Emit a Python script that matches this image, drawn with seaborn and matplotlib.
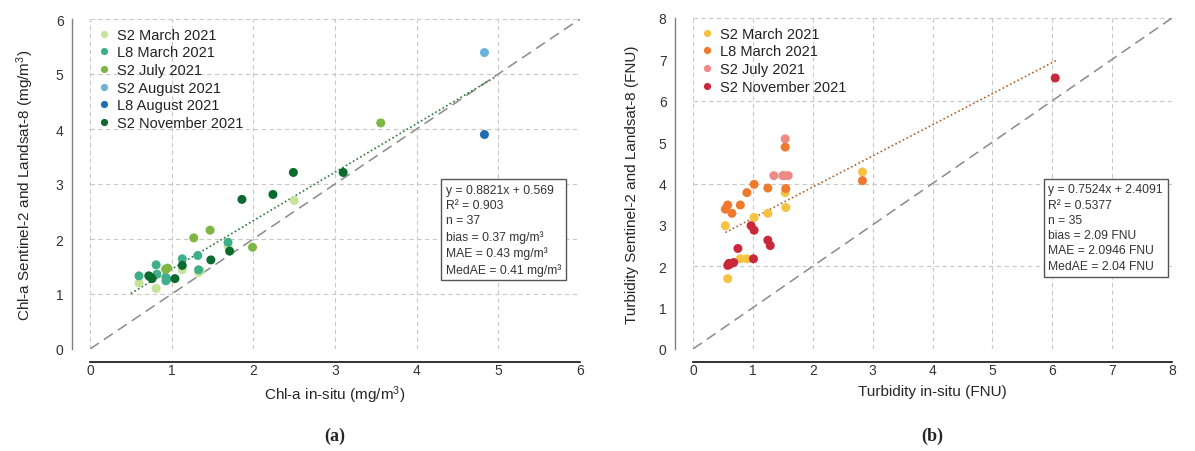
import matplotlib
matplotlib.use("Agg")
import matplotlib.pyplot as plt
import numpy as np
import pandas as pd
import seaborn as sns

# ---- panel (a): Chl-a ----
chl_groups = ["S2 March 2021", "L8 March 2021", "S2 July 2021",
              "S2 August 2021", "L8 August 2021", "S2 November 2021"]
chl_colors = ["#c6e39b", "#3fae8a", "#7db642", "#6bb3dc", "#1f6db3", "#0b6a2e"]

chl_s2_mar_x = [0.60, 0.81, 0.92, 1.13, 1.33, 1.35, 1.69, 2.50]
chl_s2_mar_y = [1.20, 1.10, 1.45, 1.44, 1.39, 1.42, 1.87, 2.70]
chl_l8_mar_x = [0.60, 0.81, 0.82, 0.93, 0.93, 0.94, 1.13, 1.32, 1.33, 1.69]
chl_l8_mar_y = [1.33, 1.53, 1.36, 1.30, 1.24, 1.27, 1.64, 1.70, 1.44, 1.94]
chl_s2_jul_x = [0.93, 0.95, 1.27, 1.47, 1.99, 3.56]
chl_s2_jul_y = [1.45, 1.47, 2.02, 2.16, 1.85, 4.11]
chl_s2_aug_x = [4.83]
chl_s2_aug_y = [5.39]
chl_l8_aug_x = [4.83]
chl_l8_aug_y = [3.90]
chl_s2_nov_x = [0.72, 0.74, 0.76, 1.04, 1.13, 1.48, 1.71, 1.86, 2.24, 2.49, 3.10]
chl_s2_nov_y = [1.33, 1.31, 1.28, 1.28, 1.52, 1.62, 1.78, 2.72, 2.81, 3.21, 3.21]

chl_fit = (0.8821, 0.569)
chl_fit_range = [0.50, 4.95]
chl_stats = ["y = 0.8821x + 0.569", "R\u00b2 = 0.903", "n = 37",
             "bias = 0.37 mg/m\u00b3", "MAE = 0.43 mg/m\u00b3", "MedAE = 0.41 mg/m\u00b3"]

# ---- panel (b): Turbidity ----
tur_groups = ["S2 March 2021", "L8 March 2021", "S2 July 2021", "S2 November 2021"]
tur_colors = ["#f5c242", "#ee7a2e", "#ee8a86", "#c9283a"]

tur_s2_mar_x = [0.54, 0.58, 0.79, 0.90, 1.02, 1.25, 1.54, 1.55, 2.83]
tur_s2_mar_y = [2.98, 1.70, 2.18, 2.18, 3.18, 3.28, 3.78, 3.42, 4.28]
tur_l8_mar_x = [0.54, 0.58, 0.65, 0.79, 0.90, 1.02, 1.25, 1.54, 1.55, 2.83]
tur_l8_mar_y = [3.38, 3.48, 3.28, 3.48, 3.78, 3.98, 3.89, 4.88, 3.88, 4.07]
tur_s2_jul_x = [1.35, 1.50, 1.52, 1.59, 1.54]
tur_s2_jul_y = [4.19, 4.19, 4.19, 4.19, 5.08]
tur_s2_nov_x = [0.58, 0.60, 0.62, 0.68, 0.75, 0.97, 1.02, 1.01, 1.25, 1.29, 6.05]
tur_s2_nov_y = [2.02, 2.07, 2.05, 2.09, 2.43, 2.98, 2.87, 2.18, 2.63, 2.50, 6.55]

tur_fit = (0.7524, 2.4091)
tur_fit_range = [0.54, 6.08]
tur_stats = ["y = 0.7524x + 2.4091", "R\u00b2 = 0.5377", "n = 35",
             "bias = 2.09 FNU", "MAE = 2.0946 FNU", "MedAE = 2.04 FNU"]


def make_df(groups, xs, ys):
    rows = {"x": [], "y": [], "group": []}
    for g, x, y in zip(groups, xs, ys):
        rows["x"] += x
        rows["y"] += y
        rows["group"] += [g] * len(x)
    return pd.DataFrame(rows)


def draw_panel(ax, df, groups, colors, lim, fit, fit_range, fit_color, stats,
               xlabel, ylabel, ygrid_step, panel_tag, box_x):
    # grid
    for v in range(0, lim + 1):
        ax.axvline(v, color="#c8c8c8", lw=0.8, ls=(0, (4, 3)), zorder=0)
    for v in range(0, lim + 1, ygrid_step):
        ax.axhline(v, color="#c8c8c8", lw=0.8, ls=(0, (4, 3)), zorder=0)

    # 1:1 line
    ax.plot([0, lim], [0, lim], color="#8a8a8a", lw=1.1, ls=(0, (7, 4)), zorder=1)
    # regression line
    fx = np.array(fit_range)
    ax.plot(fx, fit[0] * fx + fit[1], color=fit_color, lw=1.2, ls=(0, (1, 1.5)), zorder=2)

    sns.scatterplot(data=df, x="x", y="y", hue="group", hue_order=groups,
                    palette=dict(zip(groups, colors)), s=42, linewidth=0,
                    alpha=1, ax=ax, zorder=3)

    ax.set_xlim(0, lim)
    ax.set_ylim(0, lim)
    ax.set_xticks(range(0, lim + 1))
    ax.set_yticks(range(0, lim + 1))
    ax.set_xlabel(xlabel, fontsize=11, labelpad=5)
    ax.set_ylabel(ylabel, fontsize=11, labelpad=14)
    ax.tick_params(axis="both", labelsize=10, length=4, width=0.8,
                   colors="#333333", pad=2)
    ax.tick_params(axis="x", direction="in", length=4, width=1.0, color="#111111", pad=1)

    sns.despine(ax=ax, offset={"left": 13, "bottom": 9})
    ax.spines["left"].set_color("#808080")
    ax.spines["left"].set_linewidth(1.0)
    ax.spines["bottom"].set_color("#111111")
    ax.spines["bottom"].set_linewidth(1.2)

    leg = ax.legend(loc="upper left", bbox_to_anchor=(-0.008, 1.0), frameon=False,
                    fontsize=10.5, handletextpad=0.3, handlelength=1.2,
                    labelspacing=0.25, markerscale=0.8, borderaxespad=0.2)
    for t in leg.get_texts():
        t.set_color("#222222")

    ax.text(box_x, 0.50, "\n".join(stats), transform=ax.transAxes,
            fontsize=8.7, color="#333333", va="top", ha="left", linespacing=1.36,
            bbox=dict(boxstyle="square,pad=0.4", fc="white", ec="#555555", lw=1.0),
            zorder=5)

    ax.text(0.5, -0.262, panel_tag, transform=ax.transAxes, ha="center", va="center",
            fontsize=13, fontweight="bold", family="Liberation Serif")


def main():
    sns.set_theme(style="white")
    plt.rcParams["font.family"] = ["Liberation Sans", "DejaVu Sans"]
    plt.rcParams["mathtext.default"] = "regular"

    df_chl = make_df(chl_groups,
                     [chl_s2_mar_x, chl_l8_mar_x, chl_s2_jul_x, chl_s2_aug_x, chl_l8_aug_x, chl_s2_nov_x],
                     [chl_s2_mar_y, chl_l8_mar_y, chl_s2_jul_y, chl_s2_aug_y, chl_l8_aug_y, chl_s2_nov_y])
    df_tur = make_df(tur_groups,
                     [tur_s2_mar_x, tur_l8_mar_x, tur_s2_jul_x, tur_s2_nov_x],
                     [tur_s2_mar_y, tur_l8_mar_y, tur_s2_jul_y, tur_s2_nov_y])

    fig = plt.figure(figsize=(11.95, 4.52), dpi=100)
    ax1 = fig.add_axes([90 / 1195, 102 / 452, 490 / 1195, 330 / 452])
    ax2 = fig.add_axes([693 / 1195, 102 / 452, 479 / 1195, 331 / 452])

    draw_panel(ax1, df_chl, chl_groups, chl_colors, 6, chl_fit, chl_fit_range,
               "#2a7a34", chl_stats, "Chl-a in-situ (mg/m$^3$)",
               "Chl-a Sentinel-2 and Landsat-8 (mg/m$^3$)", 1, "(a)", 0.727)
    draw_panel(ax2, df_tur, tur_groups, tur_colors, 8, tur_fit, tur_fit_range,
               "#b0642a", tur_stats, "Turbidity in-situ (FNU)",
               "Turbidity Sentinel-2 and Landsat-8 (FNU)", 2, "(b)", 0.742)

    fig.savefig("out.png", dpi=100, facecolor="white")


if __name__ == "__main__":
    main()
